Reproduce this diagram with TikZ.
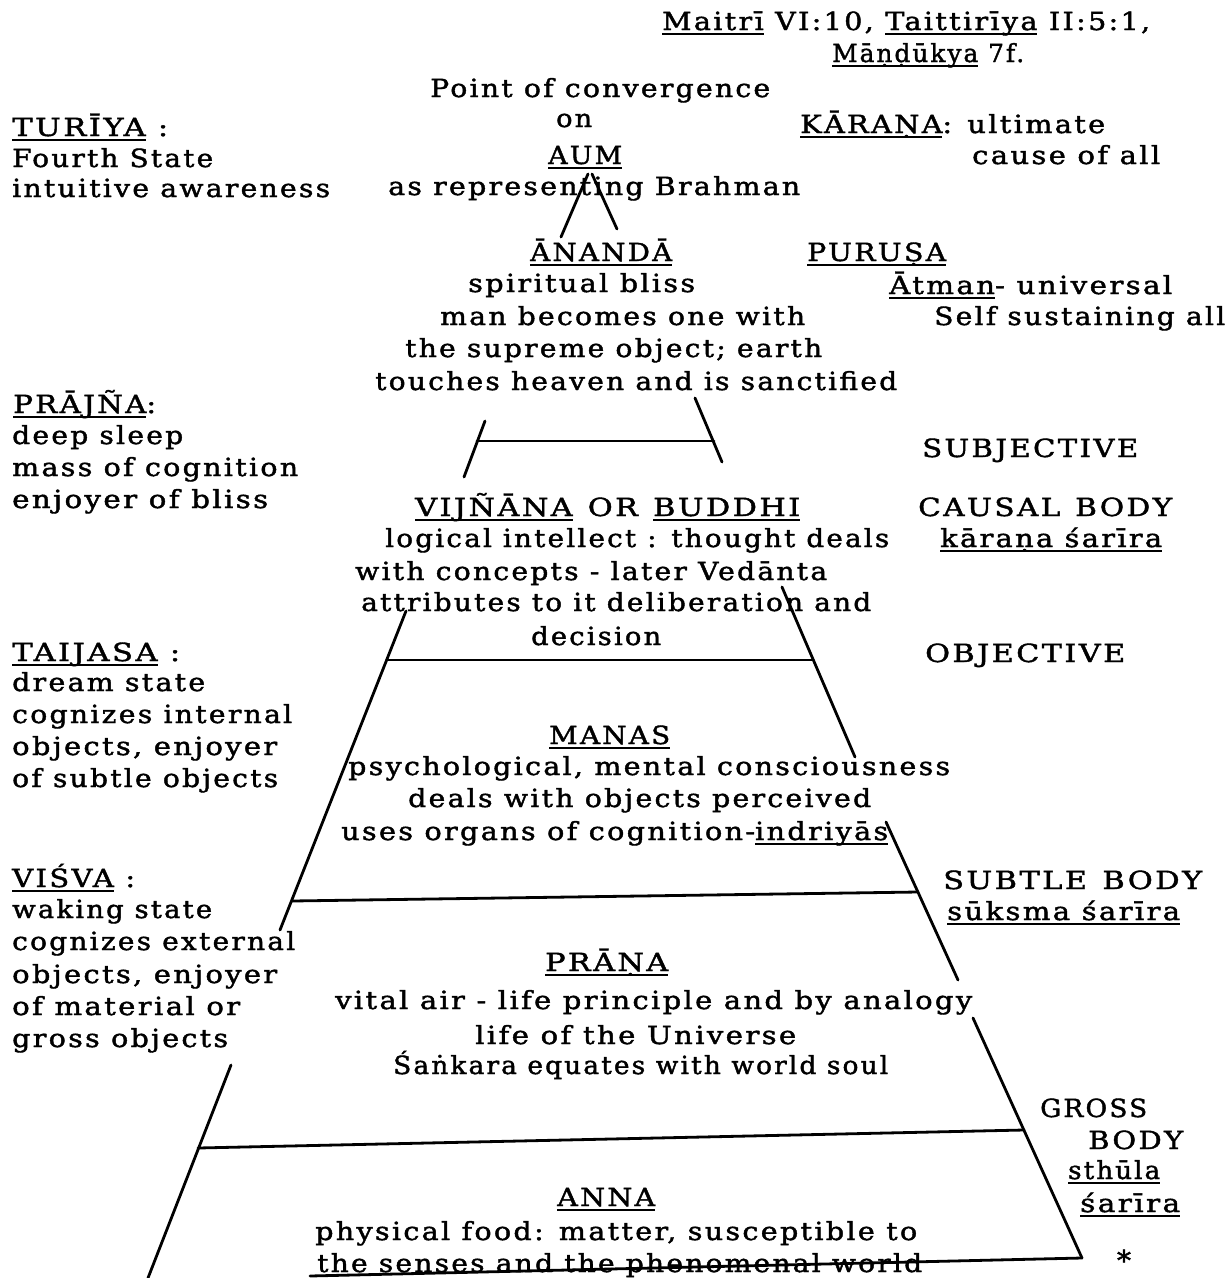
\documentclass[tikz,border=0pt]{standalone}
\usepackage{fontspec}
\setmainfont{DejaVu Serif}[LetterSpace=8,FakeBold=1.5]
\usepackage{graphicx}
\newcommand\ul[1]{\setbox0=\hbox{#1}\rlap{\rule[-4.5pt]{\wd0}{1.8pt}}\box0\relax}
\tikzset{
  tx/.style={anchor=base west,inner sep=0pt,font=\fontsize{25}{30}\selectfont},
  ln/.style={line width=2.8pt,line cap=round},
}
\newcommand\tx[5]{\node[tx] (#1) at (#2,#3) {\resizebox{#4pt}{\height}{#5}};}
\begin{document}
\begin{tikzpicture}[x=1pt,y=-1pt]
\fill[white] (0,0) rectangle (1230,1278);
\useasboundingbox (0,0) rectangle (1230,1278);
% --- top references
\tx{ref1}{662}{30}{488}{\ul{Maitrī} VI:10, \ul{Taittirīya} II:5:1,}
\tx{ref2}{832}{62}{192}{\ul{Māṇḍūkya} 7f.}
% --- AUM
\tx{conv}{430}{97}{340}{Point of convergence}
\tx{on}{556}{127}{36}{on}
\tx{aum}{548}{164}{74}{\ul{AUM}}
\tx{brah}{388}{195}{412}{as representing Brahman}
\tx{kar}{800}{133}{305}{\ul{KĀRAṆA}: ultimate}
\tx{cause}{972}{164}{188}{cause of all}
% --- TURIYA
\tx{tur}{12}{136}{156}{\ul{TURĪYA} :}
\tx{four}{12}{167}{201}{Fourth State}
\tx{intu}{12}{197}{318}{intuitive awareness}
% --- ANANDA
\tx{anan}{530}{261}{142}{\ul{ĀNANDĀ}}
\tx{spir}{468}{292}{227}{spiritual bliss}
\tx{man}{440}{325}{365}{man becomes one with}
\tx{sup}{405}{357}{417}{the supreme object; earth}
\tx{touch}{375}{390}{522}{touches heaven and is sanctified}
\tx{pur}{807}{261}{139}{\ul{PURUṢA}}
\tx{atm}{889}{294}{283}{\ul{Ātman}- universal}
\tx{self}{934}{325}{291}{Self sustaining all}
% --- PRAJNA
\tx{praj}{13}{413}{143}{\ul{PRĀJÑA}:}
\tx{deep}{12}{444}{171}{deep sleep}
\tx{mass}{12}{476}{286}{mass of cognition}
\tx{enj}{12}{508}{256}{enjoyer of bliss}
\tx{subj}{922}{457}{216}{SUBJECTIVE}
% --- VIJNANA
\tx{vij}{415}{516}{385}{\ul{VIJÑĀNA}\enspace OR\enspace \ul{BUDDHI}}
\tx{caus}{918}{516}{254}{CAUSAL\enspace BODY}
\tx{kara}{940}{547}{222}{\ul{kāraṇa śarīra}}
\tx{log}{385}{547}{504}{logical intellect : thought deals}
\tx{conc}{355}{580}{472}{with concepts - later Vedānta}
\tx{attr}{361}{611}{510}{attributes to it deliberation and}
\tx{dec}{531}{645}{130}{decision}
\tx{obj}{925}{662}{200}{OBJECTIVE}
% --- TAIJASA
\tx{tai}{12}{661}{168}{\ul{TAIJASA} :}
\tx{dream}{12}{691}{193}{dream state}
\tx{cogi}{12}{723}{280}{cognizes internal}
\tx{obja}{12}{755}{265}{objects, enjoyer}
\tx{subt}{12}{787}{266}{of subtle objects}
% --- MANAS
\tx{manas}{549}{744}{121}{\ul{MANAS}}
\tx{psy}{348}{775}{602}{psychological, mental consciousness}
\tx{dealo}{408}{807}{463}{deals with objects perceived}
\tx{uses}{341}{840}{547}{uses organs of cognition-\ul{indriyās}}
% --- VISVA
\tx{visva}{12}{887}{123}{\ul{VIŚVA} :}
\tx{wak}{12}{918}{200}{waking state}
\tx{coge}{12}{950}{283}{cognizes external}
\tx{objb}{12}{983}{265}{objects, enjoyer}
\tx{mat}{12}{1015}{228}{of material or}
\tx{gross}{12}{1047}{216}{gross objects}
\tx{subtb}{943}{889}{259}{SUBTLE\enspace BODY}
\tx{suk}{947}{920}{233}{\ul{sūksma śarīra}}
% --- PRANA
\tx{pran}{545}{971}{123}{\ul{PRĀṆA}}
\tx{vital}{335}{1009}{637}{vital air - life principle and by analogy}
\tx{life}{475}{1044}{321}{life of the Universe}
\tx{sank}{393}{1074}{495}{Śaṅkara equates with world soul}
\tx{grs}{1040}{1117}{107}{GROSS}
\tx{gbody}{1088}{1149}{95}{BODY}
\tx{sth}{1068}{1179}{92}{\ul{sthūla}}
\tx{sar}{1080}{1212}{100}{\ul{śarīra}}
\node[inner sep=0pt,font=\fontsize{28}{30}\selectfont] (star) at (1124,1260) {*};
% --- ANNA
\tx{anna}{557}{1206}{98}{\ul{ANNA}}
\tx{phys}{315}{1240}{602}{physical food: matter, susceptible to}
\tx{sens}{317}{1272}{605}{the senses and the phenomenal world}
% --- line end points
\coordinate (a1) at (588,174); \coordinate (a2) at (561,237);
\coordinate (a3) at (592,174); \coordinate (a4) at (617,229);
\coordinate (p1) at (485,421); \coordinate (p2) at (464,477);
\coordinate (h1a) at (477,441); \coordinate (h1b) at (714,441);
\coordinate (r1a) at (695,398); \coordinate (r1b) at (722,462);
\coordinate (p3) at (406,611); \coordinate (p4) at (280,930);
\coordinate (h2a) at (388,660); \coordinate (h2b) at (813,660);
\coordinate (r2a) at (782,587); \coordinate (r2b) at (855,757);
\coordinate (h3a) at (292,901); \coordinate (h3b) at (918,892);
\coordinate (r3a) at (886,822); \coordinate (r3b) at (958,980);
\coordinate (p5) at (231,1065); \coordinate (p6) at (148,1278);
\coordinate (h4a) at (198,1148); \coordinate (h4b) at (1024,1130);
\coordinate (r4a) at (973,1018); \coordinate (r4b) at (1082,1258);
\coordinate (b1) at (310,1276);
% --- lines
\draw[ln] (a1) -- (a2);
\draw[ln] (a3) -- (a4);
\draw[ln] (p1) -- (p2);
\draw[ln] (h1a) -- (h1b);
\draw[ln] (r1a) -- (r1b);
\draw[ln] (p3) -- (p4);
\draw[ln] (h2a) -- (h2b);
\draw[ln] (r2a) -- (r2b);
\draw[ln] (h3a) -- (h3b);
\draw[ln] (r3a) -- (r3b);
\draw[ln] (p5) -- (p6);
\draw[ln] (h4a) -- (h4b);
\draw[ln] (r4a) -- (r4b);
\draw[ln] (b1) -- (r4b);
\end{tikzpicture}
\end{document}
